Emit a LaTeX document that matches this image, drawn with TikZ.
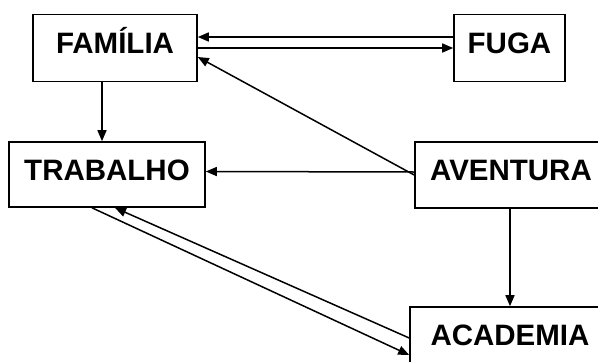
\documentclass[tikz,border=0pt]{standalone}
\usepackage{fontspec}
\setmainfont{Liberation Sans}
\usetikzlibrary{arrows.meta}
\begin{document}
\begin{tikzpicture}[x=1pt,y=-1pt,
  box/.style={draw,line width=1.6pt,rectangle,inner sep=0pt,text height=21pt,text depth=10pt,font=\bfseries\fontsize{29.5}{33}\selectfont},
  conn/.style={line width=1.5pt,-{Triangle[length=11pt,width=9pt]}}]
\useasboundingbox (0,0) rectangle (598,362);
\clip (0,0) rectangle (598,362);
\node[box,minimum width=164pt,minimum height=67pt] (fam) at (115,48) {FAMÍLIA};
\node[box,minimum width=111pt,minimum height=67pt] (fuga) at (509.5,48) {FUGA};
\node[box,minimum width=196pt,minimum height=65pt] (trab) at (107,174.5) {TRABALHO};
\node[box,minimum width=192pt,minimum height=66pt] (aven) at (511,175) {AVENTURA};
\node[box,minimum width=200pt,minimum height=66pt] (acad) at (510,340) {ACADEMIA};
% FUGA <-> FAMILIA
\draw[conn] ([yshift=11pt]fuga.west) -- ([yshift=11pt]fam.east);
\draw[conn] (fam.east) -- (fuga.west);
% AVENTURA -> FAMILIA
\draw[conn] (aven.west) -- ([yshift=-9pt]fam.east);
% FAMILIA -> TRABALHO
\draw[conn] ([xshift=-13pt]fam.south) -- ([xshift=-13pt]fam.south |- trab.north);
% AVENTURA -> TRABALHO
\draw[conn] ([yshift=3pt]aven.west) -- ([yshift=3pt]trab.east);
% AVENTURA -> ACADEMIA
\draw[conn] ([xshift=-1pt]aven.south) -- ([xshift=-1pt]aven.south |- acad.north);
% TRABALHO <-> ACADEMIA
\draw[conn] ([xshift=-15pt]trab.south) -- ([yshift=-15pt]acad.west);
\draw[conn] ([yshift=2pt]acad.west) -- ([xshift=8pt]trab.south);
\end{tikzpicture}
\end{document}
